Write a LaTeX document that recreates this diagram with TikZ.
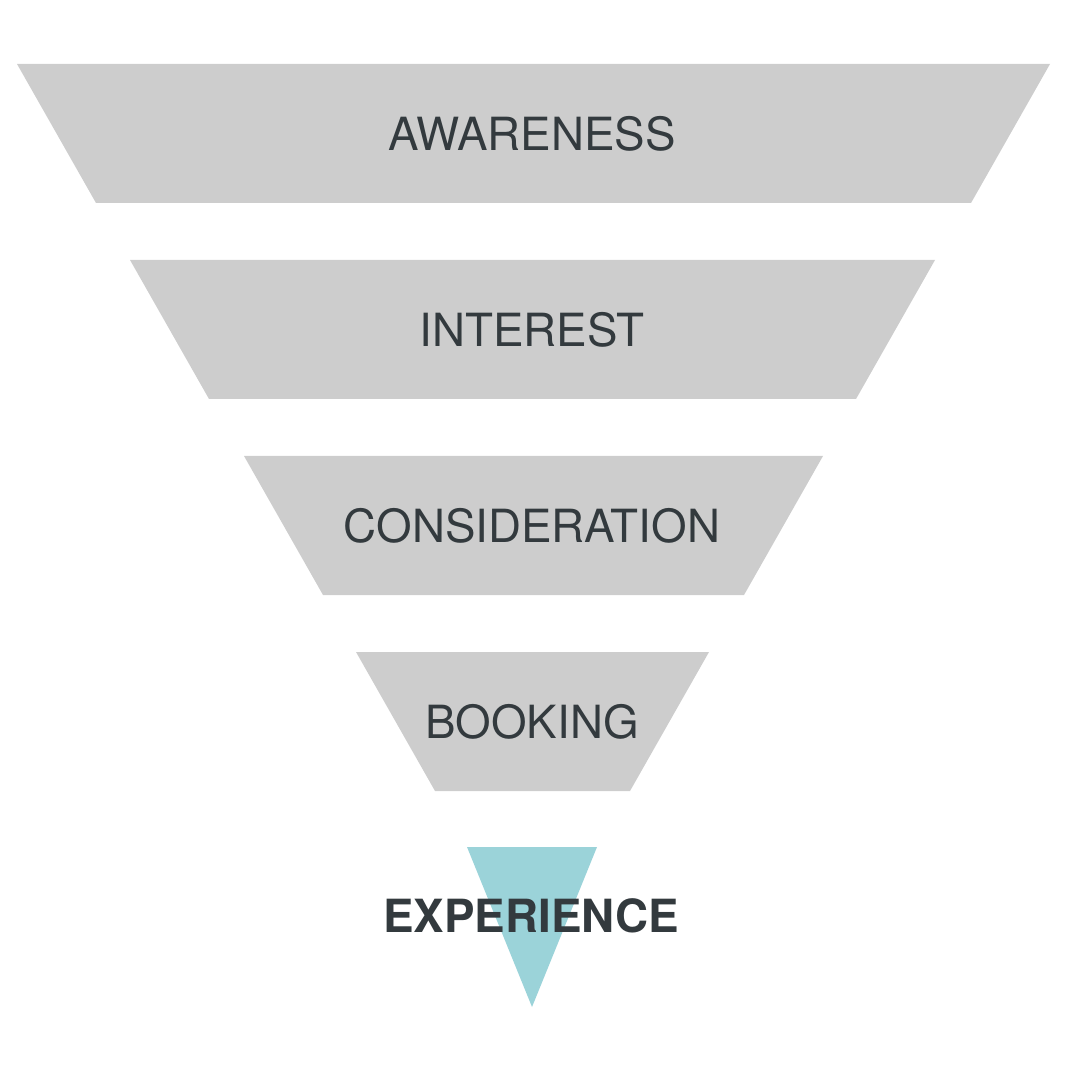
\documentclass[tikz,border=0pt]{standalone}
\usepackage{fontspec}
\setmainfont{TeX Gyre Heros}
\usepackage{xcolor}
\usetikzlibrary{positioning}
\definecolor{stagegray}{HTML}{CDCDCD}
\definecolor{stageteal}{HTML}{9BD3D9}
\definecolor{stagetext}{HTML}{333A3E}

\begin{document}
\begin{tikzpicture}[
    x=0.01cm, y=-0.01cm,
    font=\fontsize{13pt}{15pt}\selectfont,
    stage/.style={fill=stagegray},
    lbl/.style={text=stagetext, inner sep=0pt}]

  \useasboundingbox (0,0) rectangle (1080,1080);

  % funnel stages: top edge y, left x, right x
  \foreach \t/\l/\r/\nm/\txt in {64/17/1050/aware/AWARENESS,
      260/130/935/inter/INTEREST,
      456/244/823/consid/CONSIDERATION,
      652/356/709/book/BOOKING}
  {
    \fill[stage] (\l,\t) -- (\r,\t) -- (\r-79,\t+139) -- (\l+79,\t+139) -- cycle;
    \node[lbl] (\nm) at (532,\t+70) {\txt};
  }

  \fill[stageteal] (467,847) -- (597,847) -- (532,1007) -- cycle;
  \node[lbl, font=\fontsize{13pt}{15pt}\selectfont\bfseries] (exper) at (531,916) {EXPERIENCE};
\end{tikzpicture}
\end{document}
